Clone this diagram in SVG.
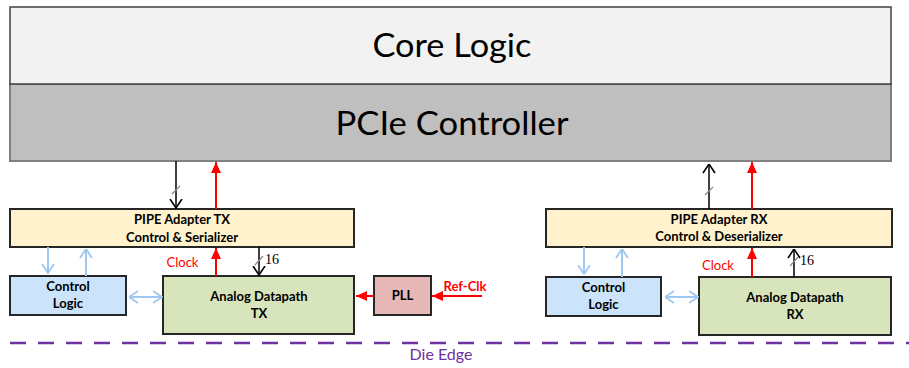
<svg xmlns="http://www.w3.org/2000/svg" width="909" height="368" viewBox="0 0 909 368">
  <defs>
    <style>
      .lbl { font-family: Lato, "Open Sans", "Liberation Sans", sans-serif; text-anchor: middle; fill: #000; }
      .big { font-size: 33px; }
      .bold { font-size: 13px; font-weight: bold; }
      .red { fill: #ff0000; font-size: 13px; }
      .num { font-family: "Liberation Serif", "DejaVu Serif", serif; font-size: 14px; fill: #000; }
      .box { stroke: #262626; stroke-width: 2; }
      .blk { stroke: #000; stroke-width: 1.5; fill: none; }
      .rd { stroke: #ff0000; stroke-width: 2; fill: none; }
      .blu { stroke: #9dc8f0; stroke-width: 2; fill: none; }
      .slash { stroke: #8a8a8a; stroke-width: 1.2; }
    </style>
    <marker id="openBlack" viewBox="0 0 10 14" refX="9.5" refY="7" markerWidth="10" markerHeight="14" markerUnits="userSpaceOnUse" orient="auto">
      <path d="M0.5,1 L9.5,7 L0.5,13" fill="none" stroke="#000" stroke-width="1.6"/>
    </marker>
    <marker id="openBlue" viewBox="0 0 10 14" refX="9.5" refY="7" markerWidth="10" markerHeight="14" markerUnits="userSpaceOnUse" orient="auto-start-reverse">
      <path d="M0.5,1 L9.5,7 L0.5,13" fill="none" stroke="#9dc8f0" stroke-width="1.8"/>
    </marker>
    <marker id="fillRed" viewBox="0 0 11 10" refX="11" refY="5" markerWidth="11" markerHeight="10" markerUnits="userSpaceOnUse" orient="auto">
      <path d="M0,0 L11,5 L0,10 z" fill="#ff0000"/>
    </marker>
  </defs>

  <rect width="909" height="368" fill="#ffffff"/>

  <!-- top layers -->
  <g id="pcie-controller">
    <rect x="10" y="84" width="881" height="77" fill="#bfbfbf" stroke="#7f7f7f" stroke-width="2"/>
    <text class="lbl big" x="452" y="135" textLength="233" lengthAdjust="spacingAndGlyphs">PCIe Controller</text>
  </g>
  <g id="core-logic">
    <rect x="10" y="7" width="881" height="77" fill="#f2f2f2" stroke="#404040" stroke-width="1.5"/>
    <text class="lbl big" x="452" y="57" textLength="159" lengthAdjust="spacingAndGlyphs">Core Logic</text>
  </g>

  <!-- transmit side -->
  <g id="pipe-tx">
    <rect class="box" x="10" y="209" width="344" height="38" fill="#fff2cc"/>
    <text class="lbl bold" x="182" y="224">PIPE Adapter TX</text>
    <text class="lbl bold" x="182" y="242">Control &amp; Serializer</text>
  </g>
  <g id="control-tx">
    <rect class="box" x="10" y="276" width="116" height="39" fill="#cce4fb"/>
    <text class="lbl bold" x="68" y="291">Control</text>
    <text class="lbl bold" x="68" y="308">Logic</text>
  </g>
  <g id="analog-tx">
    <rect class="box" x="163" y="276" width="191" height="58" fill="#d8e4bc"/>
    <text class="lbl bold" x="259" y="301">Analog Datapath</text>
    <text class="lbl bold" x="259" y="318">TX</text>
  </g>
  <g id="pll">
    <rect class="box" x="374" y="276" width="57" height="39" fill="#e6b9b8"/>
    <text class="lbl bold" x="402.5" y="300">PLL</text>
  </g>

  <!-- receive side -->
  <g id="pipe-rx">
    <rect class="box" x="546" y="209" width="346" height="38" fill="#fff2cc"/>
    <text class="lbl bold" x="719" y="224">PIPE Adapter RX</text>
    <text class="lbl bold" x="719" y="241">Control &amp; Deserializer</text>
  </g>
  <g id="control-rx">
    <rect class="box" x="546" y="277" width="115" height="39" fill="#cce4fb"/>
    <text class="lbl bold" x="603.5" y="292">Control</text>
    <text class="lbl bold" x="603.5" y="309">Logic</text>
  </g>
  <g id="analog-rx">
    <rect class="box" x="699" y="277" width="192" height="58" fill="#d8e4bc"/>
    <text class="lbl bold" x="795" y="302">Analog Datapath</text>
    <text class="lbl bold" x="795" y="319">RX</text>
  </g>

  <!-- connectors -->
  <g id="connectors">
    <!-- TX data/clock to controller -->
    <line class="blk" x1="176" y1="161" x2="176" y2="208" marker-end="url(#openBlack)"/>
    <line class="slash" x1="172" y1="194" x2="180" y2="186"/>
    <line class="rd" x1="216" y1="209" x2="216" y2="162" marker-end="url(#fillRed)"/>
    <!-- TX analog to adapter -->
    <line class="rd" x1="216" y1="276" x2="216" y2="248" marker-end="url(#fillRed)"/>
    <line class="blk" x1="259" y1="247" x2="259" y2="275" marker-end="url(#openBlack)"/>
    <line class="slash" x1="255" y1="265" x2="263" y2="256"/>
    <!-- TX control logic -->
    <line class="blu" x1="48" y1="247" x2="48" y2="273" marker-end="url(#openBlue)"/>
    <line class="blu" x1="86" y1="276" x2="86" y2="249" marker-end="url(#openBlue)"/>
    <line class="blu" x1="129" y1="297" x2="162" y2="297" marker-start="url(#openBlue)" marker-end="url(#openBlue)"/>
    <!-- PLL clocks -->
    <line class="rd" x1="374" y1="296" x2="356" y2="296" marker-end="url(#fillRed)"/>
    <line class="rd" x1="482" y1="296" x2="432" y2="296" marker-end="url(#fillRed)"/>

    <!-- RX data/clock to controller -->
    <line class="blk" x1="709" y1="209" x2="709" y2="164" marker-end="url(#openBlack)"/>
    <line class="slash" x1="705" y1="195" x2="713" y2="187"/>
    <line class="rd" x1="752" y1="209" x2="752" y2="162" marker-end="url(#fillRed)"/>
    <!-- RX analog to adapter -->
    <line class="rd" x1="752" y1="277" x2="752" y2="248" marker-end="url(#fillRed)"/>
    <line class="blk" x1="794" y1="277" x2="794" y2="249" marker-end="url(#openBlack)"/>
    <line class="slash" x1="790" y1="266" x2="798" y2="257"/>
    <!-- RX control logic -->
    <line class="blu" x1="584" y1="247" x2="584" y2="274" marker-end="url(#openBlue)"/>
    <line class="blu" x1="622" y1="277" x2="622" y2="249" marker-end="url(#openBlue)"/>
    <line class="blu" x1="665" y1="297" x2="698" y2="297" marker-start="url(#openBlue)" marker-end="url(#openBlue)"/>
  </g>

  <!-- connector labels -->
  <text class="lbl red" x="182.5" y="267">Clock</text>
  <text class="num" x="265" y="264">16</text>
  <text class="lbl red" x="465" y="291" font-weight="bold">Ref-Clk</text>
  <text class="lbl red" x="718" y="270">Clock</text>
  <text class="num" x="800" y="265">16</text>

  <!-- die boundary -->
  <line x1="10" y1="343" x2="909" y2="343" stroke="#7030a0" stroke-width="2.5" stroke-dasharray="16 12"/>
  <text class="lbl" x="441" y="360" font-size="16" style="fill:#7030a0">Die Edge</text>
</svg>
